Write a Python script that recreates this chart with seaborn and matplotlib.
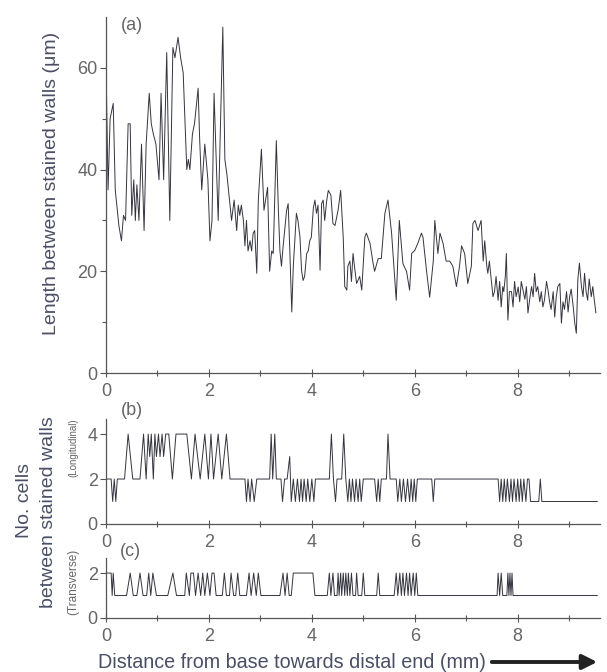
import matplotlib
matplotlib.use("Agg")
import matplotlib.pyplot as plt
import seaborn as sns
import numpy as np

# --- values ---
# (a) length between stained walls (um) vs distance (mm)
dist_a = [0.01, 0.04, 0.08, 0.14, 0.18, 0.25, 0.30, 0.34, 0.38, 0.43, 0.47, 0.50, 0.54,
          0.57, 0.60, 0.64, 0.69, 0.74, 0.78, 0.84, 0.88, 0.92, 0.97, 1.03, 1.07, 1.12,
          1.18, 1.24, 1.30, 1.34, 1.40, 1.45, 1.50, 1.57, 1.60, 1.63, 1.68, 1.72, 1.79,
          1.82, 1.86, 1.92, 1.98, 2.02, 2.06, 2.10, 2.18, 2.27, 2.31, 2.35, 2.38, 2.44,
          2.49, 2.54, 2.57, 2.60, 2.63, 2.67, 2.70, 2.73, 2.76, 2.80, 2.83, 2.86, 2.89,
          2.93, 2.96, 3.02, 3.07, 3.14, 3.18, 3.22, 3.25, 3.31, 3.35, 3.38, 3.41, 3.44,
          3.51, 3.54, 3.57, 3.61, 3.64, 3.70, 3.73, 3.77, 3.80, 3.83, 3.86, 3.90, 3.93,
          3.96, 3.99, 4.03, 4.06, 4.09, 4.12, 4.16, 4.19, 4.22, 4.25, 4.29, 4.32, 4.37,
          4.41, 4.45, 4.51, 4.56, 4.61, 4.64, 4.68, 4.70, 4.74, 4.77, 4.80, 4.84, 4.87,
          4.93, 4.97, 5.03, 5.06, 5.13, 5.19, 5.22, 5.29, 5.35, 5.42, 5.48, 5.55, 5.60,
          5.64, 5.70, 5.77, 5.84, 5.90, 5.94, 6.00, 6.06, 6.13, 6.16, 6.23, 6.29, 6.36,
          6.39, 6.45, 6.49, 6.55, 6.61, 6.68, 6.74, 6.81, 6.87, 6.91, 6.97, 7.03, 7.10,
          7.13, 7.17, 7.23, 7.29, 7.33, 7.36, 7.40, 7.42, 7.45, 7.49, 7.52, 7.55, 7.58,
          7.62, 7.65, 7.68, 7.71, 7.73, 7.76, 7.78, 7.81, 7.84, 7.88, 7.91, 7.94, 7.97,
          8.01, 8.04, 8.07, 8.11, 8.14, 8.17, 8.20, 8.24, 8.27, 8.30, 8.33, 8.36, 8.39,
          8.43, 8.46, 8.49, 8.52, 8.56, 8.59, 8.62, 8.65, 8.69, 8.72, 8.75, 8.78, 8.82,
          8.85, 8.88, 8.91, 8.95, 8.98, 9.01, 9.04, 9.08, 9.11, 9.14, 9.17, 9.20, 9.24,
          9.27, 9.30, 9.33, 9.36, 9.39, 9.43, 9.46, 9.49, 9.52]
length_a = [55, 36, 50, 53, 36, 29, 26, 31, 30, 49, 49, 31, 38,
            30, 37, 30, 45, 28, 45, 55, 49, 47, 45, 38, 55, 38,
            63, 30, 64, 62, 66, 62, 59, 40, 42, 40, 47, 49, 56,
            46, 36, 45, 38, 26, 30, 55, 30, 68, 42, 39, 36, 30,
            34, 28, 33, 31, 33, 30, 25, 30, 24, 26, 24, 27.5, 28,
            19.6, 34, 44, 32, 36.5, 20, 24, 23.5, 45.7, 32, 24, 21, 24.7,
            32, 33.3, 24.7, 12, 21, 31.4, 30, 26.7, 20.2, 18.2, 19, 23.5, 24,
            26, 26.7, 32.5, 34, 31.4, 33, 20.2, 33.3, 34, 30, 34, 35.9, 35,
            29.4, 29, 32, 35.9, 26.7, 17, 16.3, 21, 22, 18, 23.5, 20, 17.6,
            19, 16.3, 26.7, 27.5, 25.5, 21.6, 20, 22.5, 22.5, 31.4, 34, 27.5, 20,
            14.3, 30, 21.5, 20, 16.3, 23.5, 24.1, 25.5, 27.5, 26.7, 20, 14.9, 22,
            30, 23.5, 27.5, 25.5, 22, 22, 21, 17, 21, 25, 23.5, 17.6, 21,
            29.4, 30, 28, 30, 22, 26, 21, 19.6, 22, 18, 15, 16, 19,
            14.3, 18, 13, 17, 16, 19, 23.5, 10.4, 16, 16, 13, 18, 15,
            16.9, 14, 18, 16, 14.5, 17, 11.8, 15, 17, 15, 19.6, 16, 17,
            14, 16, 13, 14.3, 18, 16.3, 14, 12.5, 16, 11, 15, 17, 17.6,
            9.8, 14, 12.5, 16, 12, 15, 16.5, 13, 9.8, 7.8, 18.5, 21.6, 17,
            15, 19.6, 16, 14.3, 18.5, 15, 17, 14.3, 11.8]

# (b) longitudinal number of cells between stained walls
dist_b = [0.00, 0.10, 0.13, 0.16, 0.19, 0.22, 0.36, 0.43, 0.52, 0.66, 0.73, 0.78, 0.82,
          0.85, 0.88, 0.92, 0.95, 0.98, 1.02, 1.05, 1.09, 1.12, 1.16, 1.22, 1.29, 1.36,
          1.57, 1.66, 1.73, 1.83, 1.92, 1.99, 2.04, 2.09, 2.18, 2.25, 2.34, 2.41, 2.70,
          2.73, 2.76, 2.80, 2.83, 2.88, 2.93, 3.18, 3.21, 3.24, 3.28, 3.31, 3.40, 3.43,
          3.47, 3.52, 3.57, 3.60, 3.64, 3.68, 3.72, 3.76, 3.79, 3.82, 3.85, 3.89, 3.92,
          3.96, 4.00, 4.04, 4.07, 4.34, 4.38, 4.42, 4.46, 4.49, 4.58, 4.62, 4.66, 4.70,
          4.73, 4.76, 4.79, 4.83, 4.86, 4.90, 4.93, 4.96, 5.00, 5.22, 5.26, 5.29, 5.32,
          5.35, 5.45, 5.48, 5.52, 5.64, 5.67, 5.71, 5.74, 5.78, 5.82, 5.86, 5.90, 5.93,
          5.96, 5.99, 6.02, 6.05, 6.33, 6.36, 6.39, 7.62, 7.65, 7.68, 7.71, 7.74, 7.77,
          7.80, 7.84, 7.87, 7.90, 7.93, 7.97, 8.00, 8.03, 8.06, 8.09, 8.12, 8.16, 8.19,
          8.22, 8.25, 8.41, 8.44, 8.47, 9.55]
cells_b = [2, 2, 1, 2, 1, 2, 2, 4, 2, 2, 4, 2, 4,
           3, 4, 2, 4, 3, 4, 3, 4, 3, 4, 4, 2, 4,
           4, 2, 4, 2, 4, 2, 4, 2, 4, 2, 4, 2, 2,
           1, 2, 1, 2, 1, 2, 2, 4, 2, 4, 2, 2, 1,
           2, 2, 3, 1, 2, 1, 2, 1, 2, 1, 2, 1, 2,
           1, 2, 1, 2, 2, 4, 2, 1, 2, 2, 4, 2, 1,
           2, 1, 2, 1, 2, 1, 2, 1, 2, 2, 1, 2, 1,
           2, 2, 4, 2, 2, 1, 2, 1, 2, 1, 2, 1, 2,
           1, 2, 1, 2, 2, 1, 2, 2, 1, 2, 1, 2, 1,
           2, 1, 2, 1, 2, 1, 2, 1, 2, 1, 2, 1, 2,
           2, 1, 1, 2, 1, 1]

# (c) transverse number of cells between stained walls
dist_c = [0.00, 0.10, 0.12, 0.14, 0.17, 0.40, 0.47, 0.53, 0.60, 0.66, 0.72, 0.79, 0.83,
          0.87, 0.91, 0.98, 1.20, 1.30, 1.37, 1.53, 1.56, 1.62, 1.65, 1.70, 1.74, 1.79,
          1.84, 1.88, 1.92, 1.97, 2.02, 2.06, 2.10, 2.14, 2.26, 2.30, 2.34, 2.40, 2.43,
          2.48, 2.52, 2.56, 2.60, 2.73, 2.78, 2.82, 2.87, 2.92, 2.96, 3.01, 3.38, 3.44,
          3.48, 3.52, 3.56, 3.60, 3.64, 4.02, 4.06, 4.30, 4.34, 4.37, 4.41, 4.44, 4.49,
          4.51, 4.53, 4.56, 4.58, 4.61, 4.64, 4.66, 4.69, 4.71, 4.74, 4.77, 4.80, 4.85,
          4.87, 4.90, 4.97, 5.00, 5.03, 5.26, 5.29, 5.32, 5.60, 5.64, 5.67, 5.71, 5.74,
          5.77, 5.80, 5.84, 5.87, 5.90, 5.93, 5.97, 6.00, 6.03, 6.06, 7.60, 7.62, 7.65,
          7.68, 7.71, 7.79, 7.81, 7.83, 7.85, 7.87, 7.89, 7.91, 9.55]
cells_c = [2, 2, 1, 2, 1, 1, 2, 1, 1, 2, 1, 1, 2,
           1, 2, 1, 1, 2, 1, 1, 2, 1, 2, 2, 1, 2,
           1, 2, 1, 2, 1, 2, 2, 1, 1, 2, 1, 1, 2,
           1, 1, 2, 1, 1, 2, 1, 2, 1, 2, 1, 1, 2,
           1, 2, 1, 1, 2, 2, 1, 1, 2, 1, 2, 1, 1,
           2, 1, 2, 1, 2, 1, 2, 1, 2, 1, 2, 1, 1,
           2, 1, 1, 2, 1, 1, 2, 1, 1, 2, 1, 2, 1,
           2, 1, 2, 1, 2, 1, 2, 1, 2, 1, 1, 2, 1,
           2, 1, 1, 2, 1, 2, 1, 2, 1, 1]

x_ticks = [0, 2, 4, 6, 8]

sns.set_style("ticks")
plt.rcParams['font.family'] = ['Liberation Sans', 'DejaVu Sans']

line_col = '#34343f'
axis_col = '#555555'
text_col = '#666666'
label_col = '#4a4f66'

W, H = 607, 672
fig = plt.figure(figsize=(W / 100, H / 100), dpi=100)


def px_axes(left, top, right, bottom):
    return fig.add_axes([left / W, 1 - bottom / H, (right - left) / W, (bottom - top) / H])


ax_a = px_axes(106, 17, 600, 373)
ax_b = px_axes(106, 419, 600, 524)
ax_c = px_axes(106, 558, 600, 618)

sns.lineplot(x=dist_a, y=length_a, ax=ax_a, color=line_col, lw=0.7, estimator=None)
sns.lineplot(x=dist_b, y=cells_b, ax=ax_b, color=line_col, lw=0.7, estimator=None)
sns.lineplot(x=dist_c, y=cells_c, ax=ax_c, color=line_col, lw=0.7, estimator=None)

for ax, ylim, yticks, yminor in [(ax_a, 70, [0, 20, 40, 60], [10, 30, 50]),
                                 (ax_b, 4.67, [0, 2, 4], []),
                                 (ax_c, 2.67, [0, 2], [])]:
    ax.set_xlim(0, 9.6)
    ax.set_ylim(0, ylim)
    ax.set_xticks(x_ticks)
    ax.set_xticks([1, 3, 5, 7, 9], minor=True)
    ax.set_yticks(yticks)
    ax.set_yticks(yminor, minor=True)
    ax.set_xlabel('')
    ax.set_ylabel('')
    for s in ['top', 'right']:
        ax.spines[s].set_visible(False)
    for s in ['left', 'bottom']:
        ax.spines[s].set_color(axis_col)
        ax.spines[s].set_linewidth(0.9)
    ax.tick_params(axis='x', which='major', direction='inout', length=6, width=0.8,
                   colors=axis_col, labelcolor=text_col, labelsize=13, pad=4)
    ax.tick_params(axis='x', which='minor', direction='inout', length=5, width=0.8, colors=axis_col)
    ax.tick_params(axis='y', which='major', direction='out', length=4, width=0.8,
                   colors=axis_col, labelcolor=text_col, labelsize=13, pad=2)
    ax.tick_params(axis='y', which='minor', direction='out', length=3, width=0.8, colors=axis_col)
    ax.patch.set_alpha(0)


def ftext(x, y, s, **kw):
    fig.text(x / W, 1 - y / H, s, ha='center', va='center', **kw)


ftext(132, 25, '(a)', fontsize=13, color=text_col)
ftext(132, 410, '(b)', fontsize=13, color=text_col)
ftext(130, 551, '(c)', fontsize=13, color=text_col)

ftext(51, 183, 'Length between stained walls (μm)', fontsize=14, color=label_col, rotation=90)
ftext(25, 500, 'No. cells', fontsize=14, color=label_col, rotation=90)
ftext(49, 512, 'between stained walls', fontsize=14, color=label_col, rotation=90)
ftext(73, 448, '(Longitudinal)', fontsize=7, color=text_col, rotation=90)
ftext(73, 582, '(Transverse)', fontsize=8.5, color=text_col, rotation=90)

fig.text(98 / W, 1 - 662 / H, 'Distance from base towards distal end (mm)', ha='left', va='center',
         fontsize=14.2, color=label_col)
fig.patches.append(matplotlib.patches.FancyArrowPatch(
    (489 / W, 1 - 662 / H), (600 / W, 1 - 662 / H), transform=fig.transFigure,
    arrowstyle='-|>', mutation_scale=22, lw=2.8, color='#222222'))

fig.savefig('out.png', dpi=100)
